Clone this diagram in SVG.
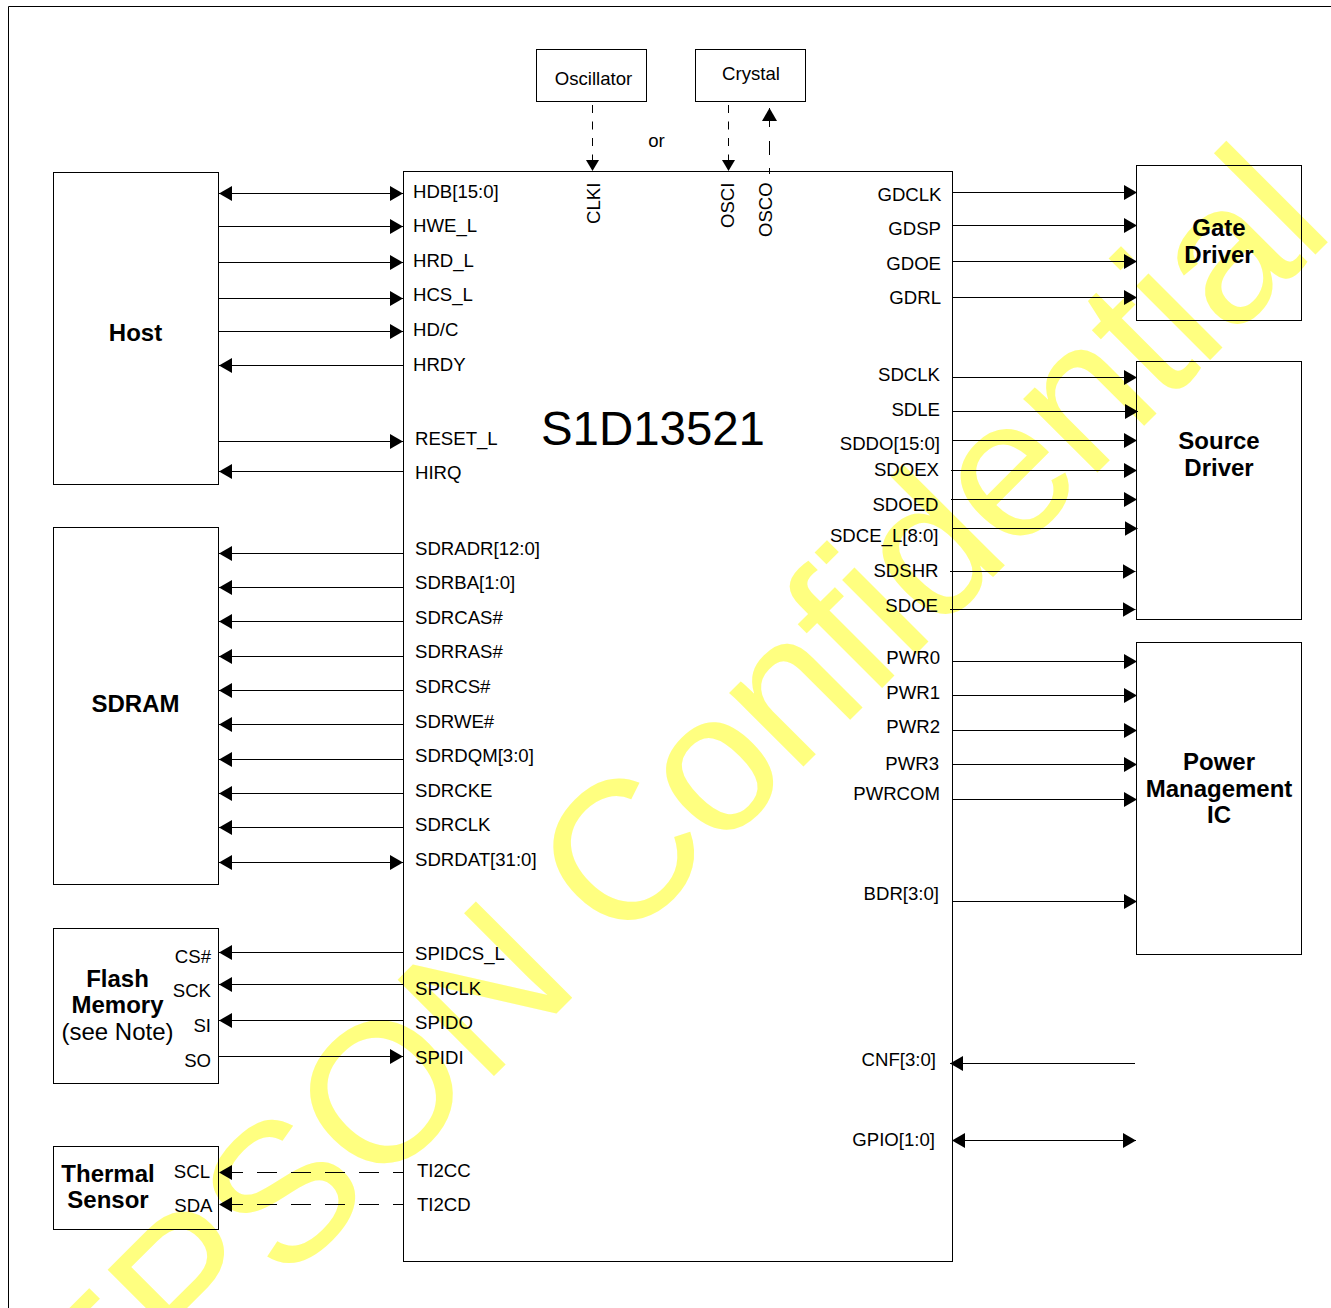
<svg xmlns="http://www.w3.org/2000/svg" width="1331" height="1308" viewBox="0 0 1331 1308">
<style>
text{font-family:"Liberation Sans",Arial,sans-serif;font-size:18.6px;fill:#000}
.b{font-weight:bold;font-size:24px;text-anchor:middle}
.e{text-anchor:end}
.m{text-anchor:middle}
.box{fill:none;stroke:#000;stroke-width:1}
#connectors line{stroke:#000;stroke-width:1;fill:none}
#connectors line.d{stroke-dasharray:20 14;stroke-dashoffset:-4}
#connectors line.v{stroke-dasharray:8 8.5}
#connectors line.u{stroke-dasharray:6 13 14 14 20}
.a{marker-end:url(#arr)}
.s{marker-start:url(#arr)}
.n{marker-end:url(#sm)}
.w{font-size:198px;letter-spacing:-2.7px;fill:#ffff80}
</style>
<defs>
<marker id="arr" markerUnits="userSpaceOnUse" markerWidth="14" markerHeight="15" refX="13" refY="7.5" orient="auto-start-reverse"><path d="M0 0L13 7.5L0 15Z" fill="#000"/></marker>
<marker id="sm" markerUnits="userSpaceOnUse" markerWidth="12" markerHeight="13" refX="11" refY="6.5" orient="auto"><path d="M0 0L11 6.5L0 13Z" fill="#000"/></marker>
</defs>
<rect width="1331" height="1308" fill="#fff"/>
<text id="watermark" class="w" transform="translate(101 1469) rotate(-45)">EPSON Confidential</text>
<path id="frame" class="box" d="M8.5 1308V6.5H1331"/>
<g id="connectors">
<line class="a s" x1="219" y1="193.5" x2="403" y2="193.5"/>
<line class="a" x1="219" y1="226.5" x2="403" y2="226.5"/>
<line class="a" x1="219" y1="262.5" x2="403" y2="262.5"/>
<line class="a" x1="219" y1="298.5" x2="403" y2="298.5"/>
<line class="a" x1="219" y1="331.5" x2="403" y2="331.5"/>
<line class="a" x1="403" y1="365.5" x2="219" y2="365.5"/>
<line class="a" x1="219" y1="441.5" x2="403" y2="441.5"/>
<line class="a" x1="403" y1="471.5" x2="219" y2="471.5"/>
<line class="a" x1="403" y1="553.5" x2="219" y2="553.5"/>
<line class="a" x1="403" y1="587.5" x2="219" y2="587.5"/>
<line class="a" x1="403" y1="621.5" x2="219" y2="621.5"/>
<line class="a" x1="403" y1="656.5" x2="219" y2="656.5"/>
<line class="a" x1="403" y1="690.5" x2="219" y2="690.5"/>
<line class="a" x1="403" y1="724.5" x2="219" y2="724.5"/>
<line class="a" x1="403" y1="759.5" x2="219" y2="759.5"/>
<line class="a" x1="403" y1="793.5" x2="219" y2="793.5"/>
<line class="a" x1="403" y1="827.5" x2="219" y2="827.5"/>
<line class="a s" x1="219" y1="862.5" x2="403" y2="862.5"/>
<line class="a" x1="403" y1="952.5" x2="219" y2="952.5"/>
<line class="a" x1="403" y1="984.5" x2="219" y2="984.5"/>
<line class="a" x1="403" y1="1020.5" x2="219" y2="1020.5"/>
<line class="a" x1="219" y1="1056.5" x2="403" y2="1056.5"/>
<line class="s d" x1="219" y1="1172.5" x2="403" y2="1172.5"/>
<line class="s d" x1="219" y1="1204.5" x2="403" y2="1204.5"/>
<line class="a" x1="953" y1="192.5" x2="1137" y2="192.5"/>
<line class="a" x1="953" y1="225.5" x2="1137" y2="225.5"/>
<line class="a" x1="953" y1="261.5" x2="1137" y2="261.5"/>
<line class="a" x1="953" y1="297.5" x2="1137" y2="297.5"/>
<line class="a" x1="953" y1="377.5" x2="1137" y2="377.5"/>
<line class="a" x1="953" y1="411.5" x2="1138" y2="411.5"/>
<line class="a" x1="953" y1="440.5" x2="1137" y2="440.5"/>
<line class="a" x1="951" y1="470.5" x2="1137" y2="470.5"/>
<line class="a" x1="951" y1="499.5" x2="1137" y2="499.5"/>
<line class="a" x1="953" y1="528.5" x2="1137.5" y2="528.5"/>
<line class="a" x1="950" y1="571.5" x2="1135.5" y2="571.5"/>
<line class="a" x1="950" y1="609.5" x2="1135.5" y2="609.5"/>
<line class="a" x1="953" y1="661.5" x2="1137" y2="661.5"/>
<line class="a" x1="953" y1="695.5" x2="1137" y2="695.5"/>
<line class="a" x1="953" y1="730.5" x2="1137" y2="730.5"/>
<line class="a" x1="953" y1="764.5" x2="1137" y2="764.5"/>
<line class="a" x1="953" y1="799.5" x2="1137" y2="799.5"/>
<line class="a" x1="953" y1="901.5" x2="1137" y2="901.5"/>
<line class="a" x1="1135" y1="1063.5" x2="950" y2="1063.5"/>
<line class="a s" x1="952" y1="1140.5" x2="1136" y2="1140.5"/>
<line class="n v" x1="592.5" y1="105" x2="592.5" y2="171"/>
<line class="n v" x1="728.5" y1="105" x2="728.5" y2="171"/>
<line class="a u" x1="769.5" y1="174" x2="769.5" y2="108"/>
</g>
<g id="chip">
<rect class="box" x="403.5" y="171.5" width="549" height="1090"/>
<text x="541" y="445" style="font-size:47.4px">S1D13521</text>
<text x="413" y="198">HDB[15:0]</text>
<text x="413" y="232">HWE_L</text>
<text x="413" y="267">HRD_L</text>
<text x="413" y="301">HCS_L</text>
<text x="413" y="336">HD/C</text>
<text x="413" y="371">HRDY</text>
<text x="415" y="445">RESET_L</text>
<text x="415" y="479">HIRQ</text>
<text x="415" y="555">SDRADR[12:0]</text>
<text x="415" y="589">SDRBA[1:0]</text>
<text x="415" y="624">SDRCAS#</text>
<text x="415" y="658">SDRRAS#</text>
<text x="415" y="693">SDRCS#</text>
<text x="415" y="728">SDRWE#</text>
<text x="415" y="762">SDRDQM[3:0]</text>
<text x="415" y="797">SDRCKE</text>
<text x="415" y="831">SDRCLK</text>
<text x="415" y="866">SDRDAT[31:0]</text>
<text x="415" y="960">SPIDCS_L</text>
<text x="415" y="995">SPICLK</text>
<text x="415" y="1029">SPIDO</text>
<text x="415" y="1064">SPIDI</text>
<text x="417" y="1177">TI2CC</text>
<text x="417" y="1211">TI2CD</text>
<text transform="translate(600 224) rotate(-90)">CLKI</text>
<text transform="translate(734 228) rotate(-90)">OSCI</text>
<text transform="translate(772 237) rotate(-90)">OSCO</text>
<text class="e" x="941.5" y="201">GDCLK</text>
<text class="e" x="941" y="235">GDSP</text>
<text class="e" x="941" y="270">GDOE</text>
<text class="e" x="941" y="304">GDRL</text>
<text class="e" x="940" y="381">SDCLK</text>
<text class="e" x="940" y="416">SDLE</text>
<text class="e" x="940" y="450">SDDO[15:0]</text>
<text class="e" x="939" y="476">SDOEX</text>
<text class="e" x="938.5" y="511">SDOED</text>
<text class="e" x="938.5" y="542">SDCE_L[8:0]</text>
<text class="e" x="938.5" y="577">SDSHR</text>
<text class="e" x="938" y="612">SDOE</text>
<text class="e" x="940" y="664">PWR0</text>
<text class="e" x="940" y="699">PWR1</text>
<text class="e" x="940" y="733">PWR2</text>
<text class="e" x="939" y="770">PWR3</text>
<text class="e" x="940" y="800">PWRCOM</text>
<text class="e" x="939" y="900">BDR[3:0]</text>
<text class="e" x="936" y="1066">CNF[3:0]</text>
<text class="e" x="935" y="1146">GPIO[1:0]</text>
</g>
<g id="oscillator"><rect class="box" x="536.5" y="49.5" width="110" height="52"/><text class="m" x="593.5" y="85">Oscillator</text></g>
<g id="crystal"><rect class="box" x="695.5" y="49.5" width="110" height="52"/><text class="m" x="751" y="80">Crystal</text></g>
<text id="or" class="m" x="656.5" y="147">or</text>
<g id="host"><rect class="box" x="53.5" y="172.5" width="165" height="312"/><text class="b" x="135.5" y="341">Host</text></g>
<g id="sdram"><rect class="box" x="53.5" y="527.5" width="165" height="357"/><text class="b" x="135.5" y="712">SDRAM</text></g>
<g id="flash"><rect class="box" x="53.5" y="928.5" width="165" height="155"/>
<text class="b" x="117.5" y="987">Flash</text><text class="b" x="117.5" y="1013">Memory</text><text class="m" x="117.5" y="1040" style="font-size:24px">(see Note)</text>
<text class="e" x="211" y="963">CS#</text><text class="e" x="211" y="997">SCK</text><text class="e" x="211" y="1032">SI</text><text class="e" x="211" y="1067">SO</text></g>
<g id="thermal"><rect class="box" x="53.5" y="1146.5" width="165" height="83"/>
<text class="b" x="108" y="1182">Thermal</text><text class="b" x="108" y="1208">Sensor</text>
<text class="e" x="210" y="1178">SCL</text><text class="e" x="212.5" y="1212">SDA</text></g>
<g id="gate"><rect class="box" x="1136.5" y="165.5" width="165" height="155"/><text class="b" x="1219" y="236">Gate</text><text class="b" x="1219" y="263">Driver</text></g>
<g id="source"><rect class="box" x="1136.5" y="361.5" width="165" height="258"/><text class="b" x="1219" y="449">Source</text><text class="b" x="1219" y="476">Driver</text></g>
<g id="power"><rect class="box" x="1136.5" y="642.5" width="165" height="312"/><text class="b" x="1219" y="770">Power</text><text class="b" x="1219" y="797">Management</text><text class="b" x="1219" y="823">IC</text></g>
</svg>
